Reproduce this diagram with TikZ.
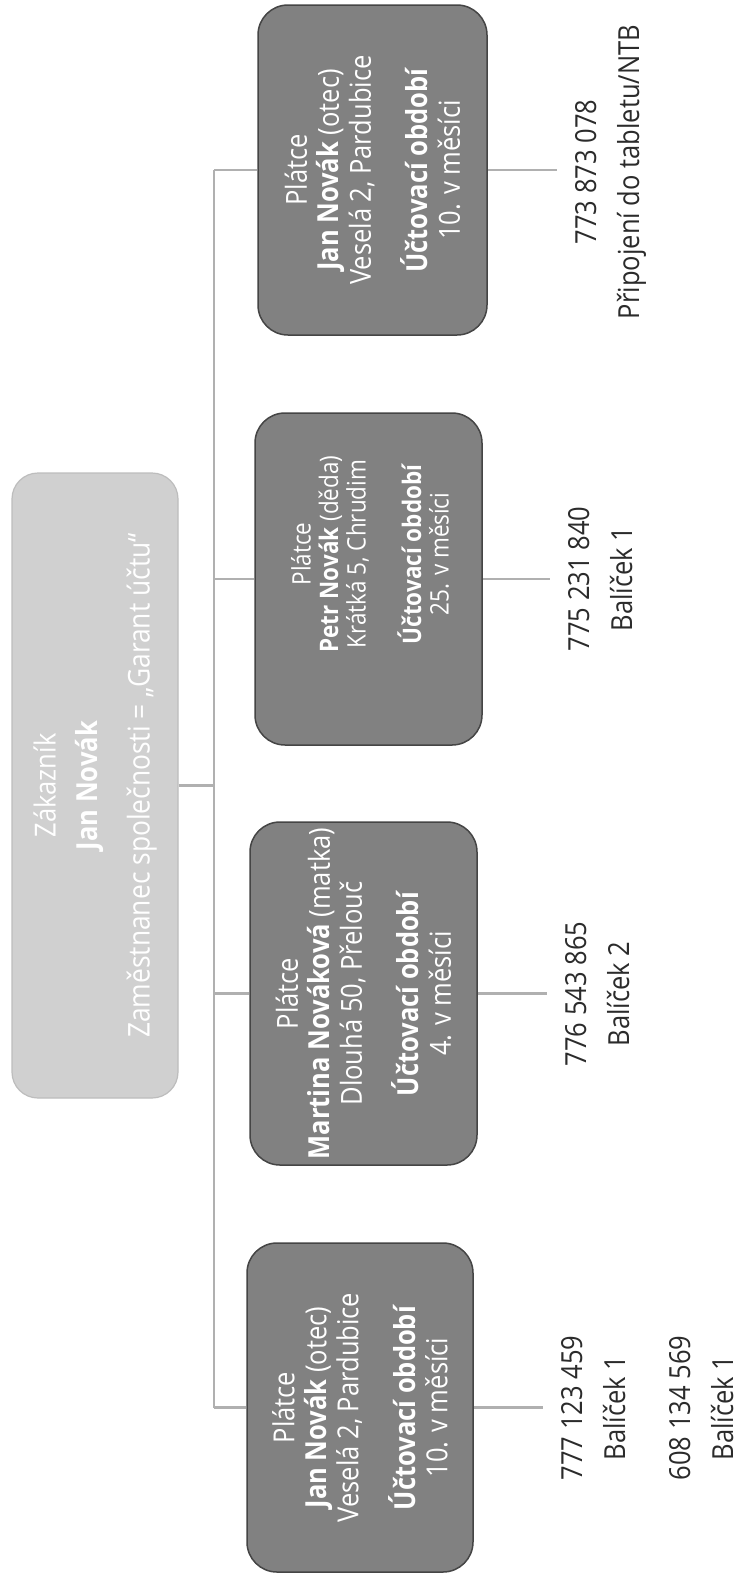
\documentclass[tikz,border=0pt]{standalone}
\usepackage{fontspec}
\setmainfont{Open Sans}[FakeStretch=0.88]
\definecolor{payfill}{HTML}{818181}
\definecolor{payline}{HTML}{454545}
\definecolor{custfill}{HTML}{D0D0D0}
\definecolor{custline}{HTML}{BDBDBD}
\definecolor{connc}{HTML}{B0B0B0}
\definecolor{phonec}{HTML}{2B2B2B}
\tikzset{
  payer/.style={draw=payline, fill=payfill, line width=1.5pt, rounded corners=30pt,
    rotate=90, text=white, align=center, inner sep=0pt,
    font=\fontsize{29}{32}\selectfont},
  paytext/.style={rotate=90, text=white, align=center, inner sep=0pt,
    font=\fontsize{25.5}{27.5}\selectfont},
  customer/.style={draw=custline, fill=custfill, line width=1.2pt, rounded corners=26pt,
    rotate=90, text=white, align=center, inner sep=0pt,
    font=\fontsize{29}{42}\selectfont},
  conn/.style={draw=connc, line width=2.8pt},
  phone/.style={rotate=90, align=center, text=phonec, inner xsep=0pt, inner ysep=18pt,
    anchor=north, font=\fontsize{29}{43}\selectfont},
}
\begin{document}
\begin{tikzpicture}[x=1pt,y=1pt]
\path[fill=white] (0,0) rectangle (740,-1575);
\useasboundingbox (0,0) rectangle (740,-1575);

% customer
\node[customer, minimum width=625pt, minimum height=166pt] (cust) at (95,-785.5)
  {Zákazník\\\textbf{Jan Novák}\\[10pt]{\fontsize{30}{44}\selectfont Zaměstnanec společnosti = „Garant účtu“}};

% payers
\node[payer, minimum width=330pt, minimum height=229pt] (b4) at (372.5,-170)
  {Plátce\\\textbf{Jan Novák} (otec)\\Veselá 2, Pardubice\\[25pt]\textbf{Účtovací období}\\10. v měsíci};
\node[payer, minimum width=332pt, minimum height=227pt] (b3) at (368.5,-579) {};
\node[paytext] (t3) at (370,-554)
  {Plátce\\\textbf{Petr Novák} (děda)\\Krátká 5, Chrudim\\[28pt]\textbf{Účtovací období}\\25. v měsíci};
\node[payer, minimum width=343pt, minimum height=227pt] (b2) at (363.5,-993.5)
  {Plátce\\\textbf{Martina Nováková} (matka)\\Dlouhá 50, Přelouč\\[25pt]\textbf{Účtovací období}\\4. v měsíci};
\node[payer, minimum width=329pt, minimum height=226pt] (b1) at (360,-1407.5)
  {Plátce\\\textbf{Jan Novák} (otec)\\Veselá 2, Pardubice\\[25pt]\textbf{Účtovací období}\\10. v měsíci};

% phone numbers
\node[phone] (p4) at (557,-172) {773 873 078\\Připojení do tabletu/NTB};
\node[phone] (p3) at (550,-579) {775 231 840\\Balíček 1};
\node[phone] (p2) at (547,-994) {776 543 865\\Balíček 2};
\node[phone] (p1) at (543,-1408) {777 123 459\\Balíček 1\\[22pt]608 134 569\\Balíček 1};

% connectors
\coordinate (jc) at (214,-785.5);
\draw[conn] (cust.south) -- (jc);
\draw[conn] (jc |- b4.north) -- (jc |- b1.north);
\foreach \b in {b1,b2,b3,b4} {
  \draw[conn] (jc |- \b.north) -- (\b.north);
}
\draw[conn] (b4.south) -- (b4.south -| p4.north);
\draw[conn] (b3.south) -- (b3.south -| p3.north);
\draw[conn] (b2.south) -- (b2.south -| p2.north);
\draw[conn] (b1.south) -- (b1.south -| p1.north);
\end{tikzpicture}
\end{document}
